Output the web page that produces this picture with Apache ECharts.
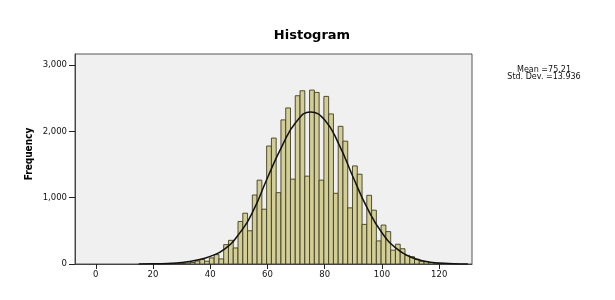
<!DOCTYPE html>
<html>
<head>
<meta charset="utf-8">
<script src="https://cdn.jsdelivr.net/npm/echarts@6/dist/echarts.min.js"></script>
<style>
html,body{margin:0;padding:0;background:#fff;}
#chart{width:615px;height:300px;}
</style>
</head>
<body>
<div id="chart"></div>
<script>
// Histogram bins (lower edges) and bin width
const binWidth = 5 / 3;
const binStart = [26.37, 28.03, 29.7, 31.37, 33.03, 34.7, 36.37, 38.03, 39.7, 41.37,
  43.03, 44.7, 46.37, 48.03, 49.7, 51.37, 53.03, 54.7, 56.37, 58.03,
  59.7, 61.37, 63.03, 64.7, 66.37, 68.03, 69.7, 71.37, 73.03, 74.7,
  76.37, 78.03, 79.7, 81.37, 83.03, 84.7, 86.37, 88.03, 89.7, 91.37,
  93.03, 94.7, 96.37, 98.03, 99.7, 101.37, 103.03, 104.7, 106.37, 108.03,
  109.7, 111.37, 113.03, 114.7, 116.37, 118.03, 119.7, 121.37, 123.03];
const frequency = [3, 5, 8, 14, 22, 45, 67, 42, 92, 142,
  77, 292, 357, 242, 641, 766, 501, 1040, 1264, 826,
  1778, 1898, 1075, 2172, 2352, 1279, 2536, 2611, 1324, 2621,
  2586, 1264, 2526, 2262, 1066, 2075, 1851, 846, 1478, 1353,
  597, 1035, 811, 348, 587, 488, 209, 298, 230, 130,
  110, 72, 42, 35, 22, 14, 8, 5, 3];
// Normal curve
const curveX = [15, 20, 25, 30, 35, 40, 45, 50, 55, 60, 65, 70, 75, 80, 85, 90, 95, 100, 105, 110, 115, 120, 125, 130];
const curveY = [1, 3, 9, 22, 55, 115, 225, 450, 800, 1300, 1770, 2140, 2290, 2170, 1800, 1300, 830, 470, 235, 105, 42, 15, 5, 1.5];
const xTicks = [0, 20, 40, 60, 80, 100, 120];
const yTicks = [0, 1000, 2000, 3000];
const titleText = 'Histogram';
const yName = 'Frequency';
const statLines = ['Mean =75.21', 'Std. Dev. =13.936'];

const barData = binStart.map((s, i) => [s, s + binWidth, frequency[i]]);
const curveData = curveX.map((x, i) => [x, curveY[i]]);

const chart = echarts.init(document.getElementById('chart'), null, {renderer: 'canvas'});
const tickFont = 'DejaVu Sans';
chart.setOption({
  animation: false,
  backgroundColor: '#ffffff',
  grid: {
    left: 75, top: 54, right: 143, bottom: 36,
    show: true, backgroundColor: '#f0f0f0', borderColor: '#555555', borderWidth: 1
  },
  xAxis: {
    type: 'value', min: -7.25, max: 131.45,
    splitLine: {show: false},
    axisLine: {show: true, onZero: false, lineStyle: {color: '#444', width: 1}},
    axisTick: {show: true, length: 5, customValues: xTicks, lineStyle: {color: '#222'}},
    axisLabel: {customValues: xTicks, margin: 6, fontFamily: tickFont, fontSize: 8.5, color: '#111'}
  },
  yAxis: {
    type: 'value', min: 0, max: 3165,
    splitLine: {show: false},
    axisLine: {show: true, onZero: false, lineStyle: {color: '#444', width: 1}},
    axisTick: {show: true, length: 6, customValues: yTicks, lineStyle: {color: '#222'}},
    axisLabel: {
      customValues: yTicks, margin: 8, fontFamily: tickFont, fontSize: 8.5, color: '#111',
      formatter: v => (v % 1000 === 0 ? v.toLocaleString('en-US') : '')
    }
  },
  series: [
    {
      type: 'custom',
      data: barData,
      encode: {x: [0, 1], y: 2},
      clip: true,
      renderItem: function (params, api) {
        const p0 = api.coord([api.value(0), api.value(2)]);
        const p1 = api.coord([api.value(1), 0]);
        return {
          type: 'rect',
          shape: {x: p0[0], y: p0[1], width: p1[0] - p0[0], height: p1[1] - p0[1]},
          style: {fill: '#d3cd96', stroke: '#3e3d26', lineWidth: 0.9}
        };
      }
    },
    {
      type: 'line',
      data: curveData,
      smooth: true,
      showSymbol: false,
      lineStyle: {color: '#111', width: 1.5},
      z: 5
    }
  ],
  graphic: [
    {type: 'text', x: 312, y: 36, style: {text: titleText, font: 'bold 13px "DejaVu Sans"', fill: '#000', textAlign: 'center', textVerticalAlign: 'middle'}},
    {type: 'text', x: 29, y: 154, rotation: Math.PI / 2, style: {text: yName, font: 'bold 10px "Liberation Sans Narrow", "DejaVu Sans Condensed", sans-serif', fill: '#000', textAlign: 'center', textVerticalAlign: 'middle'}},
    {type: 'text', x: 544, y: 70, style: {text: statLines[0], font: '8px "DejaVu Sans"', fill: '#111', textAlign: 'center', textVerticalAlign: 'middle'}},
    {type: 'text', x: 544, y: 76.5, style: {text: statLines[1], font: '8px "DejaVu Sans"', fill: '#111', textAlign: 'center', textVerticalAlign: 'middle'}}
  ]
});
</script>
</body>
</html>
